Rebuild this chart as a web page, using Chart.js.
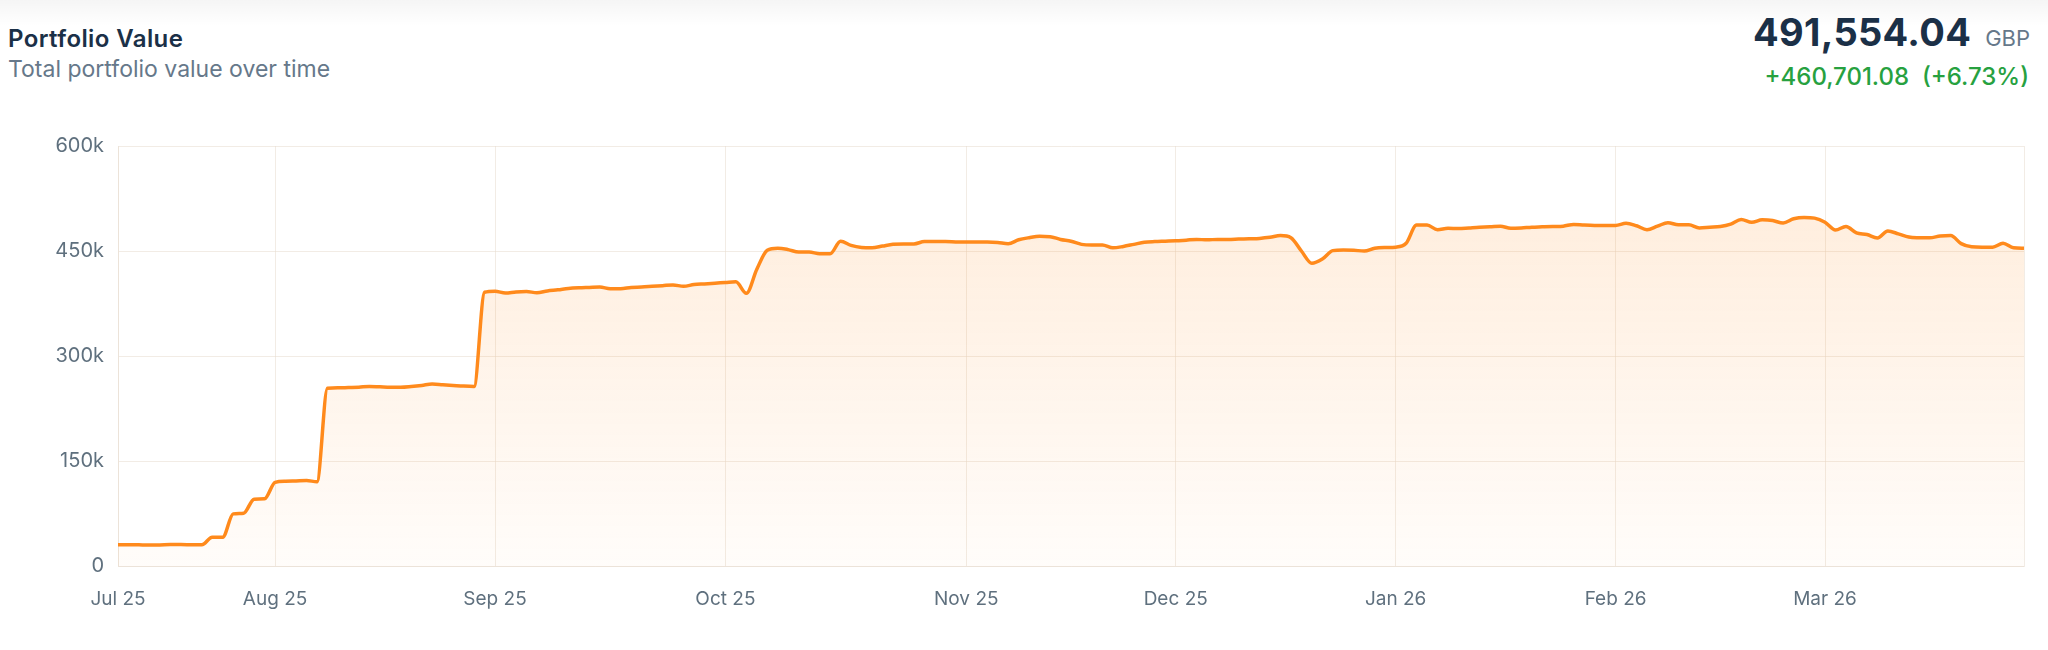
<!DOCTYPE html>
<html>
<head>
<meta charset="utf-8">
<title>Portfolio Value</title>
<script src="https://cdn.jsdelivr.net/npm/chart.js@4.4.1/dist/chart.umd.min.js"></script>
<style>
  html, body { margin: 0; padding: 0; background: #fff; }
  body { width: 2048px; height: 650px; position: relative; overflow: hidden; font-family: Inter, "Noto Sans", sans-serif; }
  .topShade { position: absolute; left: 0; top: 0; width: 2048px; height: 26px;
    background: linear-gradient(to bottom, rgba(0,0,0,0.04), rgba(0,0,0,0)); }
  .title { position: absolute; left: 8px; top: 24px; font-size: 24px; line-height: 1.21; font-weight: 600; color: #1b3047; letter-spacing: 0.4px; }
  .subtitle { position: absolute; left: 8px; top: 56px; font-size: 23px; line-height: 1.21; color: #66788a; }
  .amountRow { position: absolute; right: 18px; top: 10px; font-size: 38px; line-height: 1.21; white-space: nowrap; }
  .amount { font-weight: 700; color: #1b3047; letter-spacing: 0.3px; }
  .ccy { font-size: 22px; font-weight: 400; color: #66788a; margin-left: 14px; }
  .change { position: absolute; right: 19px; top: 62px; font-size: 24px; line-height: 1.21; font-weight: 500; color: #27a13f; white-space: pre; }
  #chartBox { position: absolute; left: 0; top: 120px; width: 2048px; height: 530px; }
</style>
</head>
<body>
<div class="topShade"></div>
<div class="title">Portfolio Value</div>
<div class="subtitle">Total portfolio value over time</div>
<div class="amountRow"><span class="amount">491,554.04</span><span class="ccy">GBP</span></div>
<div class="change">+460,701.08  (+6.73%)</div>
<div id="chartBox"><canvas id="valueChart"></canvas></div>

<script>
// month labels and the trading-day index where each month starts
const monthLabels = ['Jul 25', 'Aug 25', 'Sep 25', 'Oct 25', 'Nov 25', 'Dec 25', 'Jan 26', 'Feb 26', 'Mar 26'];
const monthStartIndex = [0, 15, 36, 58, 81, 101, 122, 143, 163];

// portfolio value per trading day, in thousands of GBP
const portfolioValues = [
  30.5, 30.4, 30.2, 30.0, 30.1, 30.6, 30.6, 30.4, 30.3, 41.0,
  41.2, 74.5, 75.5, 95.5, 96.0, 119.5, 121.0, 121.5, 122.0, 120.5,
  254.0, 254.5, 255.0, 255.5, 256.5, 256.0, 255.5, 255.5, 256.5, 258.0,
  260.0, 259.0, 258.0, 257.0, 256.5, 391.0, 392.5, 390.0, 391.5, 392.0,
  390.5, 393.0, 394.5, 396.5, 397.5, 398.0, 398.5, 396.0, 396.0, 398.0,
  398.5, 399.5, 400.5, 401.5, 399.5, 402.0, 403.0, 404.0, 405.0, 406.0,
  389.5, 424.0, 451.0, 454.0, 452.0, 448.5, 448.5, 446.0, 446.0, 464.0,
  458.0, 455.0, 454.5, 457.0, 459.5, 460.0, 460.0, 463.5, 463.5, 463.5,
  463.0, 462.7, 462.7, 462.7, 462.0, 460.5, 466.0, 469.0, 471.0, 470.5,
  466.5, 464.0, 459.5, 458.5, 458.5, 454.5, 456.5, 459.5, 462.5, 463.5,
  464.0, 464.5, 465.5, 466.5, 466.0, 466.5, 466.5, 467.0, 467.5, 468.0,
  469.5, 472.0, 469.0, 450.0, 432.5, 438.5, 450.5, 451.5, 451.0, 450.0,
  454.0, 455.0, 455.5, 461.0, 487.0, 487.0, 480.5, 482.5, 482.0, 483.0,
  484.0, 484.5, 485.5, 482.5, 483.0, 484.0, 484.5, 485.0, 485.5, 488.0,
  487.0, 486.5, 486.5, 486.5, 489.5, 486.0, 480.5, 485.5, 490.5, 487.5,
  487.5, 483.0, 484.0, 485.0, 488.5, 495.0, 491.0, 494.5, 493.5, 490.0,
  496.0, 498.0, 497.0, 491.0, 480.0, 485.0, 476.0, 473.5, 468.5, 478.5,
  474.5, 470.0, 469.0, 468.8, 471.5, 472.0, 460.5, 456.0, 455.5, 455.5,
  461.0, 454.5, 454.0
];

const yTicks = [0, 150, 300, 450, 600];

const xLabels = portfolioValues.map((v, i) => {
  const m = monthStartIndex.indexOf(i);
  return m >= 0 ? monthLabels[m] : '';
});

const gridColor = 'rgba(232, 220, 208, 0.55)';
const tickColor = '#5f707e';
const lineColor = '#ff8a1c';
const lastIndex = portfolioValues.length - 1;

const ctx = document.getElementById('valueChart');

new Chart(ctx, {
  type: 'line',
  data: {
    labels: xLabels,
    datasets: [{
      label: 'Portfolio value',
      data: portfolioValues,
      borderColor: lineColor,
      borderWidth: 3.5,
      pointRadius: 0,
      cubicInterpolationMode: 'monotone',
      fill: 'origin',
      backgroundColor: function(context) {
        const area = context.chart.chartArea;
        if (!area) return 'rgba(255,138,28,0.08)';
        const g = context.chart.ctx.createLinearGradient(0, area.top, 0, area.bottom);
        g.addColorStop(0, 'rgba(255,138,28,0.17)');
        g.addColorStop(1, 'rgba(255,138,28,0.025)');
        return g;
      }
    }]
  },
  options: {
    responsive: true,
    maintainAspectRatio: false,
    animation: false,
    layout: { padding: { top: 23, right: 24, left: 0, bottom: 0 } },
    plugins: {
      legend: { display: false },
      tooltip: { enabled: false }
    },
    scales: {
      x: {
        type: 'category',
        offset: false,
        border: { display: true, color: gridColor },
        grid: {
          drawTicks: false,
          color: function(c) {
            return (xLabels[c.index] || c.index === lastIndex) ? gridColor : 'rgba(0,0,0,0)';
          }
        },
        ticks: {
          autoSkip: false,
          maxRotation: 0,
          padding: 22,
          color: tickColor,
          font: { family: 'Inter', size: 19 }
        },
        afterFit: function(scale) { scale.height = 84; }
      },
      y: {
        min: 0,
        max: 600,
        border: { display: true, color: gridColor },
        grid: { drawTicks: false, color: gridColor },
        afterBuildTicks: function(scale) {
          scale.ticks = yTicks.map(v => ({ value: v }));
        },
        ticks: {
          padding: 14,
          color: tickColor,
          font: { family: 'Inter', size: 20 },
          callback: function(v) { return v === 0 ? '0' : v + 'k'; }
        },
        afterFit: function(scale) { scale.width = 118; }
      }
    }
  }
});
</script>
</body>
</html>
